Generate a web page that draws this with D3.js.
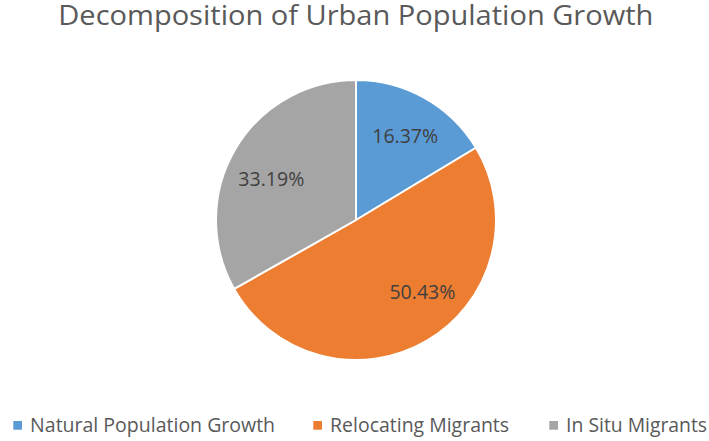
<!DOCTYPE html>
<html>
<head>
<meta charset="utf-8">
<script src="https://cdn.jsdelivr.net/npm/d3@7"></script>
<style>
  html, body { margin: 0; padding: 0; background: #fff; }
  svg { display: block; }
</style>
</head>
<body>
<svg id="chart" width="709" height="441"></svg>
<script>
// Shares of urban population growth, in percent
const categories = ["Natural Population Growth", "Relocating Migrants", "In Situ Migrants"];
const shares = [16.37, 50.43, 33.19];
const colors = ["#5B9BD5", "#ED7D31", "#A5A5A5"];
const chartTitle = "Decomposition of Urban Population Growth";

const svg = d3.select("#chart");
const W = 709, H = 441;
const cx = 356, cy = 220, R = 140;
const FONT = "'Open Sans', sans-serif";

// Title
svg.append("text")
  .attr("x", 355.8).attr("y", 25)
  .attr("text-anchor", "middle")
  .attr("font-family", FONT)
  .attr("font-size", 27)
  .attr("fill", "#595959")
  .attr("textLength", 595).attr("lengthAdjust", "spacingAndGlyphs")
  .text(chartTitle);

const data = categories.map((c, i) => ({ name: c, value: shares[i], color: colors[i] }));

const pie = d3.pie().sort(null).value(d => d.value);
const arc = d3.arc().innerRadius(0).outerRadius(R);
const arcs = pie(data);

const g = svg.append("g").attr("transform", `translate(${cx},${cy})`);

g.selectAll("path.slice")
  .data(arcs)
  .enter().append("path")
  .attr("class", "slice")
  .attr("d", arc)
  .attr("fill", d => d.data.color)
  .attr("stroke", "#fff")
  .attr("stroke-width", 2)
  .attr("stroke-linejoin", "round");

// Value labels sit inside each slice, shifted off the centroid for a best fit
const labelArc = d3.arc().innerRadius(98).outerRadius(98);
const labelNudge = [[1, 1], [17, -13], [0, 8]];
g.selectAll("text.value")
  .data(arcs)
  .enter().append("text")
  .attr("class", "value")
  .attr("transform", (d, i) => {
    const [x, y] = labelArc.centroid(d);
    return `translate(${x + labelNudge[i][0]},${y + labelNudge[i][1]})`;
  })
  .attr("text-anchor", "middle")
  .attr("dy", "0.36em")
  .attr("font-family", FONT)
  .attr("font-size", 20)
  .attr("fill", "#404040")
  .attr("textLength", 66).attr("lengthAdjust", "spacingAndGlyphs")
  .text(d => d.data.value.toFixed(2) + "%");

// Legend
const legendX = [13.3, 313.3, 549.3];
const legendW = [245, 179, 141];
const legend = svg.append("g");
const items = legend.selectAll("g.item")
  .data(data)
  .enter().append("g")
  .attr("class", "item")
  .attr("transform", (d, i) => `translate(${legendX[i]},0)`);

items.append("rect")
  .attr("x", 0).attr("y", 421)
  .attr("width", 8.7).attr("height", 8.7)
  .attr("fill", d => d.color);

items.append("text")
  .attr("x", 16.8).attr("y", 431.7)
  .attr("font-family", FONT)
  .attr("font-size", 20)
  .attr("fill", "#595959")
  .attr("textLength", (d, i) => legendW[i]).attr("lengthAdjust", "spacingAndGlyphs")
  .text(d => d.name);
</script>
</body>
</html>
